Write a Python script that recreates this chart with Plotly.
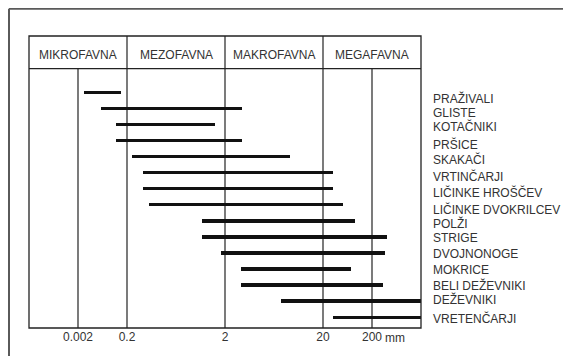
import plotly.graph_objects as go

# ---- data (positions on the chart's size-class scale) ----
groups = ["PRAŽIVALI", "GLISTE", "KOTAČNIKI", "PRŠICE", "SKAKAČI", "VRTINČARJI",
          "LIČINKE HROŠČEV", "LIČINKE DVOKRILCEV", "POLŽI", "STRIGE", "DVOJNONOGE",
          "MOKRICE", "BELI DEŽEVNIKI", "DEŽEVNIKI", "VRETENČARJI"]
size_from = [1.12, 1.47, 1.78, 1.78, 2.10, 2.33, 2.33, 2.45, 3.53, 3.53, 3.92, 4.33, 4.33, 5.14, 6.20]
size_to = [1.88, 4.35, 3.80, 4.35, 5.33, 6.20, 6.20, 6.41, 6.65, 7.31, 7.27, 6.57, 7.22, 8.16, 8.16]
class_names = ["MIKROFAVNA", "MEZOFAVNA", "MAKROFAVNA", "MEGAFAVNA"]
class_bounds = [0, 2, 4, 6, 8]
tick_pos = [1, 2, 4, 6, 7]
tick_text = ["0.002", "0.2", "2", "20", "200"]
unit_text = "mm"

# ---- layout helpers ----
label_nudge_px = [6.5, 4.2, 2, 4, 3, 3.6, 4.3, 5, 2.7, 1.4, 1, 1, 0, -1.5, 1]
Y_TOP, Y_BOTTOM, Y_HEADER = -3.5, 14.67, -1.47
INK = "#222222"
TXT = "#333333"
FONT = "Liberation Sans, Arial, sans-serif"

# the page body adds an 8px offset; figure is sized to fill the rest
W, H = 563, 348
ML, MT, MR, MB = 21, 28, 150, 24
PW, PH = W - ML - MR, H - MT - MB

idx = list(range(len(groups)))
fig = go.Figure()
fig.add_trace(go.Bar(
    y=idx, x=[t - f for f, t in zip(size_from, size_to)], base=size_from,
    orientation="h", width=0.21, marker=dict(color="#111111", line=dict(width=0)),
    cliponaxis=False, hoverinfo="skip", showlegend=False))

shapes = []
shapes.append(dict(type="rect", xref="paper", yref="paper", x0=0, x1=1, y0=0, y1=1,
                   line=dict(color=INK, width=1.3)))
shapes.append(dict(type="line", xref="paper", yref="y", x0=0, x1=1, y0=Y_HEADER, y1=Y_HEADER,
                   line=dict(color=INK, width=1.3)))
for b in class_bounds[1:-1]:
    shapes.append(dict(type="line", xref="x", yref="y", x0=b, x1=b, y0=Y_TOP, y1=Y_BOTTOM,
                       line=dict(color=INK, width=1.2), layer="below"))
for p in tick_pos:
    if p not in class_bounds:
        shapes.append(dict(type="line", xref="x", yref="y", x0=p, x1=p, y0=Y_HEADER, y1=Y_BOTTOM,
                           line=dict(color=INK, width=1.2), layer="below"))
# page frame (top and left)
fx = (1 - ML) / PW
fy = 1 + (MT - 0.5) / PH
shapes.append(dict(type="line", xref="paper", yref="paper", x0=fx, x1=1.6, y0=fy, y1=fy,
                   line=dict(color="#5a5a5a", width=2)))
shapes.append(dict(type="line", xref="paper", yref="paper", x0=fx, x1=fx, y0=fy, y1=-0.3,
                   line=dict(color="#5a5a5a", width=2)))

annotations = []
for i, name in enumerate(class_names):
    cx = (class_bounds[i] + class_bounds[i + 1]) / 2
    annotations.append(dict(x=cx, y=(Y_TOP + Y_HEADER) / 2, xref="x", yref="y", text=name,
                            showarrow=False, yshift=-3, borderpad=0,
                            font=dict(family=FONT, size=12, color=TXT)))
for i, g in enumerate(groups):
    annotations.append(dict(x=1, y=i, xref="paper", yref="y", text=g, showarrow=False,
                            xanchor="left", xshift=11, yshift=-label_nudge_px[i], borderpad=0,
                            font=dict(family=FONT, size=12, color=TXT)))
annotations.append(dict(x=tick_pos[-1], y=0, xref="x", yref="paper", text=unit_text,
                        showarrow=False, xanchor="left", yanchor="middle", xshift=12, yshift=-10,
                        borderpad=0, font=dict(family=FONT, size=12, color=TXT)))

fig.update_layout(
    width=W, height=H, margin=dict(l=ML, r=MR, t=MT, b=MB),
    paper_bgcolor="white", plot_bgcolor="white",
    shapes=shapes, annotations=annotations, bargap=0,
    xaxis=dict(range=[0, 8], tickvals=tick_pos, ticktext=tick_text, ticks="",
               showgrid=False, zeroline=False, showline=False,
               tickfont=dict(family=FONT, size=12, color=TXT)),
    yaxis=dict(range=[Y_BOTTOM, Y_TOP], showticklabels=False, ticks="",
               showgrid=False, zeroline=False, showline=False),
)
fig.write_html("out.html")
